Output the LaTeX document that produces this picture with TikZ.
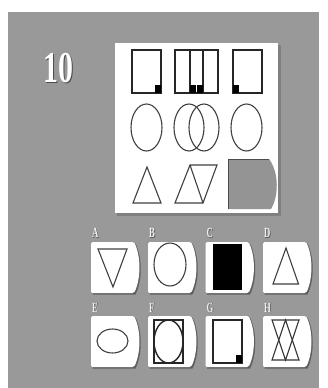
\documentclass[tikz,border=0pt]{standalone}
\usepackage{fontspec}
\setmainfont{Liberation Serif}
\definecolor{bggray}{RGB}{153,153,153}
\definecolor{phgray}{RGB}{148,148,148}
\definecolor{shad}{RGB}{95,95,95}
\begin{document}
\begin{tikzpicture}[x=1pt,y=-1pt,
  ln/.style={draw=black!85,line width=1.1pt,line join=miter},
  lbl/.style={text=black!6,font=\bfseries\fontsize{14}{14}\selectfont,inner sep=0pt,anchor=base west,xscale=0.62},
  lblsh/.style={lbl,text=black!65},
  optbox/.pic={
    \fill[shad] (1.5,1.5) -- (44.5,1.5) .. controls (51.5,15) and (51.5,39) .. (44.5,52.5) -- (1.5,52.5) -- cycle;
    \fill[white,rounded corners=1.5pt] (0,0) -- (43,0) .. controls (50,14) and (50,37) .. (43,51) -- (0,51) -- cycle;
  }]
\useasboundingbox (0,0) rectangle (327,388);
\fill[white] (0,0) rectangle (327,388);
\fill[bggray] (8,12) rectangle (319,388);
% number
\node[text=black!70,font=\bfseries\fontsize{44}{44}\selectfont,xscale=0.68,inner sep=0pt] (numsh) at (59.2,69.2) {10};
\node[text=white,font=\bfseries\fontsize{44}{44}\selectfont,xscale=0.68,inner sep=0pt] (num) at (58,68) {10};
% main box
\fill[black!50] (117,45) rectangle (280.5,215.5);
\fill[white] (115,43) rectangle (278,213);
% row 1
\draw[ln] (132,50) rectangle (161,93); \fill (155,85) rectangle (161,93);
\draw[ln] (175,50) rectangle (218,93); \draw[ln] (190,50)--(190,93); \draw[ln] (203,50)--(203,93);
\fill (190,85) rectangle (196,93); \fill (197,85) rectangle (203,93);
\draw[ln] (233,50) rectangle (262,93); \fill (233,85) rectangle (239,93);
% row 2
\draw[ln,draw=black!75] (146.5,127.5) ellipse [x radius=15.5,y radius=23.5];
\draw[ln,draw=black!75] (189,127.5) ellipse [x radius=15,y radius=23.5];
\draw[ln,draw=black!75] (204,127.5) ellipse [x radius=15,y radius=23.5];
\draw[ln,draw=black!75] (246.5,127.5) ellipse [x radius=15.5,y radius=23.5];
% row 3
\draw[ln,draw=black!75] (147,167)--(161,203)--(133,203)--cycle;
\draw[ln,draw=black!75] (175,203)--(190,165)--(217,165)--(203,203)--cycle;
\draw[ln,draw=black!75] (190,165)--(203,203);
\fill[phgray] (228,159) -- (269,159) .. controls (279,172) and (279,196) .. (271,209) -- (228,209) -- cycle;
\draw[black!70,line width=1pt] (228,209) -- (228,159.5) -- (269,159.5);
% options row 1
\pic at (91,242) {optbox};
\pic at (148,242) {optbox};
\pic at (205.5,242) {optbox};
\pic at (263,242) {optbox};
\node[lblsh] (lash) at (92.8,238.3) {A}; \node[lbl] (la) at (92,237.5) {A};
\node[lblsh] (lbsh) at (149.8,238.3) {B}; \node[lbl] (lb) at (149,237.5) {B};
\node[lblsh] (lcsh) at (207.3,238.3) {C}; \node[lbl] (lc) at (206.5,237.5) {C};
\node[lblsh] (ldsh) at (264.8,238.3) {D}; \node[lbl] (ld) at (264,237.5) {D};
\draw[ln,draw=black!75] (98,249)--(127,249)--(113,287)--cycle;
\draw[ln,draw=black!75] (170,264.5) ellipse [x radius=16,y radius=21.5];
\fill[black] (213,244) rectangle (242,290);
\draw[ln,draw=black!75] (286,248)--(298.5,284)--(273,284)--cycle;
% options row 2
\pic at (91,316) {optbox};
\pic at (148,316) {optbox};
\pic at (205.5,316) {optbox};
\pic at (263,316) {optbox};
\node[lblsh] (lesh) at (92.8,312.8) {E}; \node[lbl] (le) at (92,312) {E};
\node[lblsh] (lfsh) at (149.8,312.8) {F}; \node[lbl] (lf) at (149,312) {F};
\node[lblsh] (lgsh) at (207.3,312.8) {G}; \node[lbl] (lg) at (206.5,312) {G};
\node[lblsh] (lhsh) at (264.8,312.8) {H}; \node[lbl] (lh) at (264,312) {H};
\draw[ln,draw=black!75] (112.5,341) ellipse [x radius=15.5,y radius=12];
\draw[ln,line width=1.4pt] (154,320) rectangle (183,363);
\draw[ln,line width=1.4pt] (168.5,341.5) ellipse [x radius=14.5,y radius=21.5];
\draw[ln,line width=1.4pt] (213,320) rectangle (242,363); \fill (236,355) rectangle (242,363);
\draw[ln,draw=black!80] (272,320)--(299,320)--(285.5,360)--cycle;
\draw[ln,draw=black!80] (272,360)--(299,360)--(285.5,320)--cycle;
\end{tikzpicture}
\end{document}
